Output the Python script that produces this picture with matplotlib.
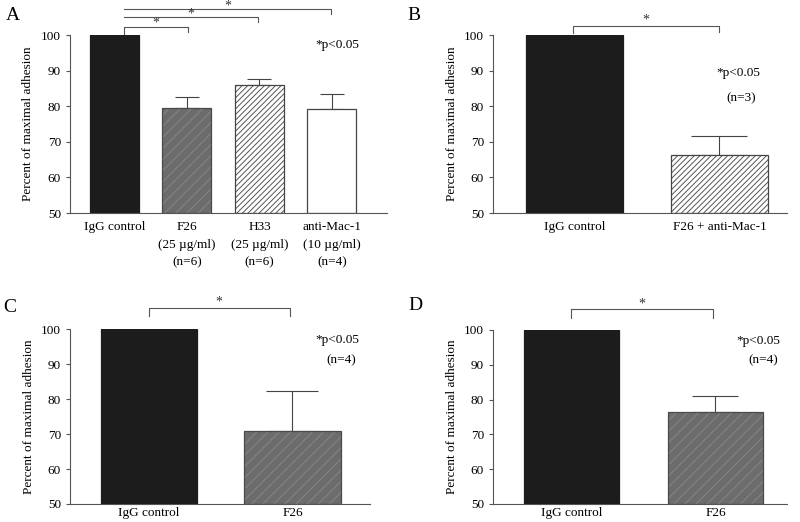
import matplotlib
matplotlib.use("Agg")
import matplotlib.pyplot as plt

plt.rcParams["font.family"] = ["Liberation Serif", "DejaVu Serif"]
plt.rcParams["hatch.linewidth"] = 0.7

# panel A
a_labels = ["IgG control", "F26\n(25 \u00b5g/ml)\n(n=6)",
            "H33\n(25 \u00b5g/ml)\n(n=6)", "anti-Mac-1\n(10 \u00b5g/ml)\n(n=4)"]
a_means = [100, 79.4, 86.0, 79.1]
a_err = [0, 3.3, 1.6, 4.2]

# panel B
b_labels = ["IgG control", "F26 + anti-Mac-1"]
b_means = [100, 66.3]
b_err = [0, 5.3]

# panel C
c_labels = ["IgG control", "F26"]
c_means = [100, 70.9]
c_err = [0, 11.5]

# panel D
d_labels = ["IgG control", "F26"]
d_means = [100, 76.3]
d_err = [0, 4.7]

BLACK = dict(face="#1c1c1c", hatch=None, hcol="#1c1c1c", edge="#1c1c1c")
GRAY = dict(face="#6c6c6c", hatch="///", hcol="#868686", edge="#4a4a4a")
STRIPE = dict(face="white", hatch="//////", hcol="#555555", edge="#444444")
WHITE = dict(face="white", hatch=None, hcol="white", edge="#444444")

W, H = 800, 522
fig = plt.figure(figsize=(8, 5.22), dpi=100)


def make_ax(x0, x1, ytop, ybot):
    return fig.add_axes([x0 / W, 1 - ybot / H, (x1 - x0) / W, (ybot - ytop) / H])


def draw(ax, labels, means, errs, styles, xlim, width, capsize, pad=6):
    xs = list(range(len(means)))
    for x, m, s in zip(xs, means, styles):
        ax.bar(x, m - 50, width, bottom=50, color=s["face"], hatch=s["hatch"],
               edgecolor=s["hcol"], linewidth=0, zorder=2)
        ax.bar(x, m - 50, width, bottom=50, facecolor="none",
               edgecolor=s["edge"], linewidth=0.9, zorder=3)
    for x, m, e in zip(xs, means, errs):
        if e > 0:
            ax.errorbar(x, m, yerr=[[0], [e]], fmt="none", ecolor="#444444",
                        elinewidth=0.8, capsize=capsize, capthick=0.8, zorder=1)
    ax.set_xlim(*xlim)
    ax.set_ylim(50, 100)
    ax.set_yticks([50, 60, 70, 80, 90, 100])
    ax.set_xticks(xs)
    ax.set_xticklabels(labels, fontsize=9.5, linespacing=1.6)
    ax.tick_params(axis="x", length=0, pad=pad)
    ax.tick_params(axis="y", labelsize=9.5, length=3, width=0.8, color="#555555")
    for sp in ["top", "right"]:
        ax.spines[sp].set_visible(False)
    for sp in ["left", "bottom"]:
        ax.spines[sp].set_color("#555555")
        ax.spines[sp].set_linewidth(0.8)
    ax.set_ylabel("Percent of maximal adhesion", fontsize=9.5)


def bracket(ax, x0, x1, y, drop_l, drop_r, star_dy=1.6):
    ax.plot([x0, x0, x1, x1], [y - drop_l, y, y, y - drop_r], color="#555555",
            lw=0.8, clip_on=False)
    ax.text((x0 + x1) / 2, y + star_dy, "*", ha="center", va="center",
            fontsize=10, color="#333333", clip_on=False)


# A
axA = make_ax(70, 387, 35, 213)
draw(axA, a_labels, a_means, a_err, [BLACK, GRAY, STRIPE, WHITE],
     (-0.614, 3.76), 0.676, 8.5)
axA.yaxis.labelpad = 5
bracket(axA, 0.13, 1.01, 102.3, 2.3, 1.4, 1.0)
bracket(axA, 0.13, 1.98, 105.0, 0, 1.4, 0.9)
bracket(axA, 0.13, 2.99, 107.4, 0, 1.4, 0.6)
axA.text(3.07, 97.2, "*p<0.05", ha="center", va="center", fontsize=9.5)

# B
axB = make_ax(493, 787, 35, 213)
draw(axB, b_labels, b_means, b_err, [BLACK, STRIPE],
     (-0.562, 1.466), 0.669, 20)
bracket(axB, -0.01, 1.0, 102.5, 2.0, 1.6)
axB.text(1.13, 89.3, "*p<0.05", ha="center", va="center", fontsize=9.5)
axB.text(1.15, 82.3, "(n=3)", ha="center", va="center", fontsize=9.5)

# C
axC = make_ax(70, 370, 329.3, 504)
draw(axC, c_labels, c_means, c_err, [BLACK, GRAY],
     (-0.55, 1.54), 0.669, 19, pad=2)
bracket(axC, 0.0, 0.98, 106.1, 2.4, 2.4)
axC.text(1.31, 96.9, "*p<0.05", ha="center", va="center", fontsize=9.5)
axC.text(1.34, 91.2, "(n=4)", ha="center", va="center", fontsize=9.5)

# D
axD = make_ax(493, 787, 330, 504)
draw(axD, d_labels, d_means, d_err, [BLACK, GRAY],
     (-0.545, 1.497), 0.66, 16.5, pad=2)
bracket(axD, 0.0, 0.98, 106.0, 2.5, 2.5)
axD.text(1.3, 96.7, "*p<0.05", ha="center", va="center", fontsize=9.5)
axD.text(1.33, 91.4, "(n=4)", ha="center", va="center", fontsize=9.5)

for letter, px, py in [("A", 13, 16), ("B", 414, 16), ("C", 10, 307), ("D", 415, 305)]:
    fig.text(px / W, 1 - py / H, letter, fontsize=14, ha="center", va="center")

fig.savefig("out.png", dpi=100)
